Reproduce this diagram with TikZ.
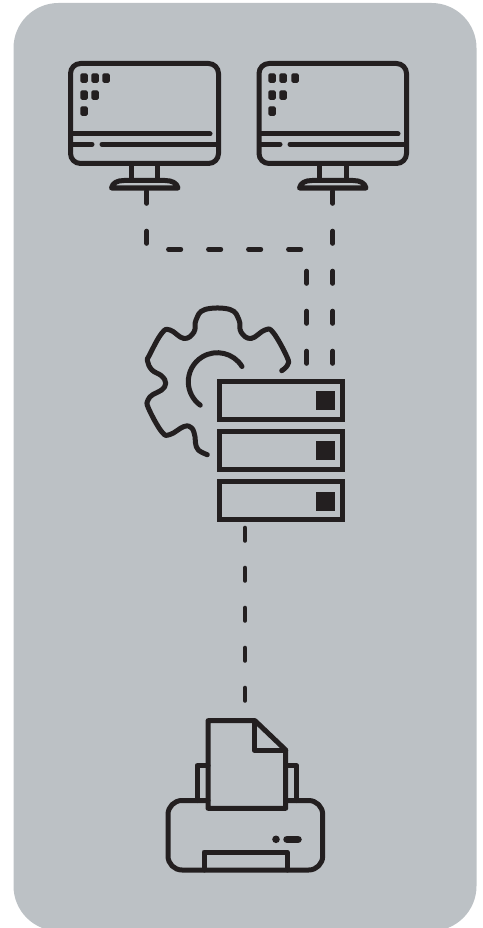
\documentclass[tikz,border=0pt]{standalone}
\usepackage{xcolor}
\usetikzlibrary{arrows,arrows.meta}
\definecolor{panelgrey}{HTML}{BCC1C5}
\definecolor{inkblack}{HTML}{231F20}
\tikzset{
  icon/.style={color=inkblack,line width=5},
  link/.style={color=inkblack,line width=4.6,dash pattern=on 12.5 off 27.5},
  pixel/.style={fill=inkblack,draw=inkblack,line width=1.4,rounded corners=1.2}
}
\begin{document}
\begin{tikzpicture}[line cap=round,line join=round,x=1,y=-1]
\useasboundingbox (0,0) rectangle (482,928);
\clip (0,0) rectangle (482,928);
\fill[panelgrey,rounded corners=45] (13.5,3) rectangle (476.5,931);

\draw [icon,rounded corners=10] (70.5,63.5) rectangle (218.5,163.5);
\draw [icon] (73,134)-- (210,134);
\draw [icon] (71,144.3)-- (92,144.3);
\draw [icon] (102,144.3)-- (218,144.3);
\draw [icon,line cap=butt] (131.3,165)-- (131.3,180);
\draw [icon,line cap=butt] (157.7,165)-- (157.7,180);
\draw [icon] (111.5,188) .. controls (112.5,183) and (117,180.5) .. (124,180.5) -- (165,180.5) .. controls (172,180.5) and (177,183) .. (178,188) -- cycle;
\foreach \px/\py in {81/74,92/74,103/74,81/91,92/91,81/107} {
\draw [pixel] (\px,\py) rectangle (\px+6.2,\py+8.2);
}

\draw [icon,rounded corners=10] (259,63.5) rectangle (406.5,163.5);
\draw [icon] (261,134)-- (398,134);
\draw [icon] (259.5,144.3)-- (280,144.3);
\draw [icon] (290,144.3)-- (406,144.3);
\draw [icon,line cap=butt] (319.5,165)-- (319.5,180);
\draw [icon,line cap=butt] (346,165)-- (346,180);
\draw [icon] (299.5,188) .. controls (300.5,183) and (305,180.5) .. (312,180.5) -- (353,180.5) .. controls (360,180.5) and (365,183) .. (366,188) -- cycle;
\foreach \px/\py in {269/74,280/74,292/74,269/91,280/91,269/107} {
\draw [pixel] (\px,\py) rectangle (\px+6.2,\py+8.2);
}

\coordinate (screenA) at (146.7,191);
\coordinate (screenB) at (332.7,191);
\coordinate (joinA) at (146.7,249.3);
\coordinate (joinB) at (304,249.3);
\coordinate (rackA) at (332.7,366);
\coordinate (tapB) at (306.7,271);
\coordinate (rackB) at (306.7,366);
\coordinate (rackC) at (245,528);
\coordinate (printerTop) at (245,702);
\draw [link] (screenA)-- (joinA)-- (joinB);
\draw [link] (screenB)-- (rackA);
\draw [link] (tapB)-- (rackB);
\draw [link] (rackC)-- (printerTop);

\draw [icon] plot[smooth,tension=0.7] coordinates {(207.3,454.7) (198.3,450) (195.5,443) (195,436.7) (191.7,428) (184,426.5) (170,434.5) (161.7,431.7) (148.5,408.3) (148,400) (153,394.5) (161.7,390) (165.7,383.3) (161.7,376) (152,370) (147.5,361) (149.5,355) (161.7,333.3) (170,330) (184,338.5) (194,332) (196,320) (205,309.5) (230,309.5) (239,320) (241,332) (251,338.5) (265,330) (273.3,332.7) (287,357) (287.5,365) (281.7,370.7)};
\draw [icon] (217.3,381.7) ++(-31.6:29) arc (-31.6:-234:29);

\draw [icon,line join=miter] (219.2,381.8) rectangle (342.5,419.2);
\draw [icon,line join=miter] (219.2,431.8) rectangle (342.5,469.5);
\draw [icon,line join=miter] (219.2,481.8) rectangle (342.5,519.5);
\fill [inkblack] (316,391) rectangle (335,410);
\fill [inkblack] (316,441) rectangle (335,460);
\fill [inkblack] (316,492) rectangle (335,511);

\draw [icon] (197,800.5)-- (197,765.7)-- (208,765.7);
\draw [icon] (296.7,800.5)-- (296.7,765.7)-- (285.7,765.7);
\draw [icon,rounded corners=14] (208,800.5)-- (168,800.5)-- (168,870)-- (322.7,870)-- (322.7,800.5)-- (285.7,800.5);
\draw [icon] (208,720.7)-- (255,720.7)-- (285.7,750)-- (285.7,808.3)-- (208,808.3)-- cycle;
\draw [icon] (254,720.7)-- (254,750)-- (285.7,750);
\draw [icon] (204,870)-- (204,852)-- (287,852)-- (287,870);
\fill [inkblack] (276,839.3) circle (3.8);
\draw [icon,line width=7.5] (287,839.3)-- (298,839.3);
\end{tikzpicture}
\end{document}
